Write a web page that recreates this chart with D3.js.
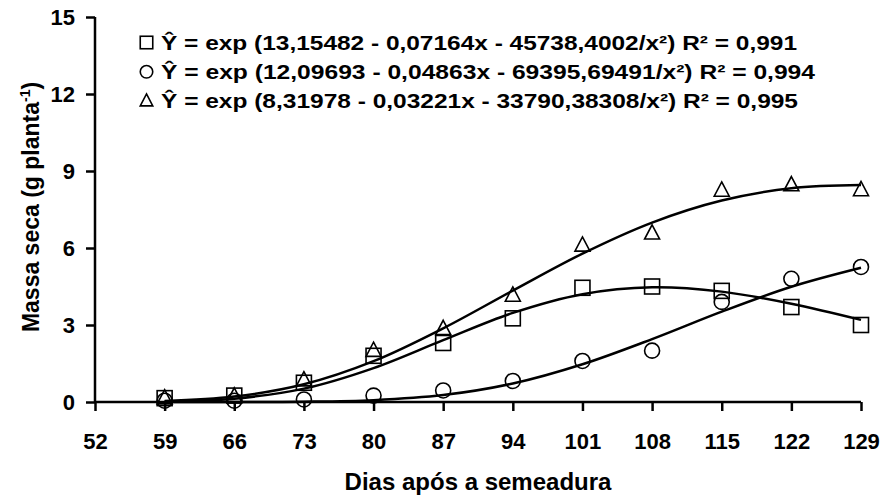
<!DOCTYPE html>
<html><head><meta charset="utf-8">
<script src="https://cdn.jsdelivr.net/npm/d3@7"></script>
<style>body{margin:0;background:#fff;} svg{display:block;} text{font-family:"Liberation Sans",Arial,sans-serif;font-weight:bold;fill:#000;}</style>
</head><body><svg id="c" width="883" height="495"></svg>
<script>
const days = [59, 66, 73, 80, 87, 94, 101, 108, 115, 122, 129];
const xTicks = [52, 59, 66, 73, 80, 87, 94, 101, 108, 115, 122, 129];
const yTicks = [0, 3, 6, 9, 12, 15];
// observed values
const squareObs = [0.15, 0.25, 0.75, 1.8, 2.3, 3.26, 4.45, 4.5, 4.33, 3.7, 3.0];
const circleObs = [0.05, 0.05, 0.1, 0.25, 0.45, 0.82, 1.6, 2.0, 3.9, 4.8, 5.26];
const triangleObs = [0.15, 0.22, 0.85, 2.0, 2.85, 4.15, 6.1, 6.57, 8.24, 8.45, 8.26];
// fitted curve values (read at each day)
const squareFit = [0.015, 0.13, 0.52, 1.32, 2.41, 3.47, 4.20, 4.47, 4.30, 3.83, 3.2];
const circleFit = [0.0, 0.001, 0.011, 0.072, 0.27, 0.72, 1.47, 2.45, 3.52, 4.49, 5.23];
const triangleFit = [0.037, 0.21, 0.69, 1.59, 2.87, 4.34, 5.78, 6.99, 7.85, 8.33, 8.45];
const legendLabels = [
  "Ŷ = exp (13,15482 - 0,07164x - 45738,4002/x²) R² = 0,991",
  "Ŷ = exp (12,09693 - 0,04863x - 69395,69491/x²) R² = 0,994",
  "Ŷ = exp (8,31978 - 0,03221x - 33790,38308/x²) R² = 0,995"
];
const legendWidths = [636, 654, 637];
const markerTypes = ["square", "circle", "triangle"];

const svg = d3.select("#c");
const x = d3.scaleLinear().domain([52, 129]).range([95, 861]);
const y = d3.scaleLinear().domain([0, 15]).range([402, 17]);

// axes
const xAxis = svg.append("g").attr("transform", "translate(0,402)")
  .call(d3.axisBottom(x).tickValues(xTicks).tickSize(9).tickPadding(22).tickSizeOuter(0));
const yAxis = svg.append("g").attr("transform", "translate(95,0)")
  .call(d3.axisLeft(y).tickValues(yTicks).tickSize(9).tickPadding(11).tickSizeOuter(0));
[xAxis, yAxis].forEach(g => {
  g.select(".domain").attr("stroke", "#000").attr("stroke-width", 2.5);
  g.selectAll(".tick line").attr("stroke", "#000").attr("stroke-width", 2.5);
  g.selectAll(".tick text").style("font-size", "22px").style("font-family", '"Liberation Sans",Arial,sans-serif').style("font-weight", "bold").attr("fill", "#000");
});
xAxis.select(".domain").attr("d", "M95,0H861");
yAxis.select(".domain").attr("d", "M0,17V402");

// curves
const line = d3.line().x((d, i) => x(days[i])).y(d => y(d)).curve(d3.curveCatmullRom.alpha(0.5));
[squareFit, circleFit, triangleFit].forEach(s => {
  svg.append("path").attr("d", line(s)).attr("fill", "none").attr("stroke", "#000").attr("stroke-width", 2.5);
});

function marker(g, type, cx, cy, s) {
  if (type === "square") {
    g.append("rect").attr("x", cx - s / 2).attr("y", cy - s / 2).attr("width", s).attr("height", s)
      .attr("fill", "none").attr("stroke", "#000").attr("stroke-width", 1.6);
  } else if (type === "circle") {
    g.append("circle").attr("cx", cx).attr("cy", cy).attr("r", s / 2)
      .attr("fill", "none").attr("stroke", "#000").attr("stroke-width", 1.6);
  } else {
    const h = s * 0.95;
    g.append("path").attr("d", `M${cx},${cy - h * 0.6}L${cx + s / 2},${cy + h * 0.4}L${cx - s / 2},${cy + h * 0.4}Z`)
      .attr("fill", "none").attr("stroke", "#000").attr("stroke-width", 1.6);
  }
}
const pts = svg.append("g");
[squareObs, circleObs, triangleObs].forEach((s, k) => {
  s.forEach((v, i) => marker(pts, markerTypes[k], x(days[i]), y(v), 15));
});

// legend
const leg = svg.append("g");
legendLabels.forEach((t, i) => {
  const ly = 42.5 + i * 29.3;
  marker(leg, markerTypes[i], 146.5, ly, 12.5);
  leg.append("text").attr("x", 161).attr("y", ly + 7)
    .attr("textLength", legendWidths[i]).attr("lengthAdjust", "spacingAndGlyphs")
    .style("font-size", "21px").text(t);
});

// axis titles
svg.append("text").attr("x", 478).attr("y", 490).attr("text-anchor", "middle").style("font-size", "24px")
  .text("Dias após a semeadura");
const yt = svg.append("text").attr("transform", "translate(39,207) rotate(-90)").attr("text-anchor", "middle").style("font-size", "23px");
yt.append("tspan").text("Massa seca (g planta");
yt.append("tspan").attr("dy", -9).style("font-size", "14px").text("-1");
yt.append("tspan").attr("dy", 9).text(")");
</script></body></html>
